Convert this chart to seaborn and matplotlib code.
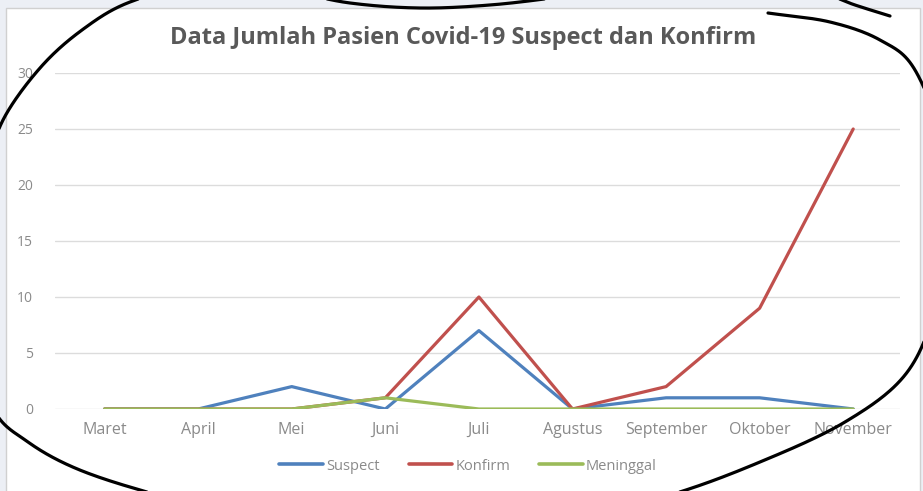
import matplotlib
matplotlib.use("Agg")
import matplotlib.pyplot as plt
from matplotlib.patches import Rectangle
import numpy as np
import pandas as pd
import seaborn as sns

# Monthly patient counts
bulan = ["Maret", "April", "Mei", "Juni", "Juli", "Agustus", "September", "Oktober", "November"]
suspect = [0, 0, 2, 0, 7, 0, 1, 1, 0]
konfirm = [0, 0, 0, 1, 10, 0, 2, 9, 25]
meninggal = [0, 0, 0, 1, 0, 0, 0, 0, 0]
seri = ["Suspect", "Konfirm", "Meninggal"]
warna = ["#4F81BD", "#C0504D", "#9BBB59"]
yticks = [0, 5, 10, 15, 20, 25, 30]

df = pd.DataFrame({
    "Bulan": bulan * 3,
    "Jumlah": suspect + konfirm + meninggal,
    "Seri": [seri[0]] * len(bulan) + [seri[1]] * len(bulan) + [seri[2]] * len(bulan),
})
df["pos"] = [bulan.index(b) for b in df["Bulan"]]

sns.set_theme(style="white")
plt.rcParams["font.family"] = ["Open Sans", "DejaVu Sans"]

W, H = 923, 491
fig = plt.figure(figsize=(W / 100, H / 100), dpi=100)
fig.patch.set_facecolor("#eceff5")

# chart area panel
bg = fig.add_axes([0, 0, 1, 1], zorder=0)
bg.set_xlim(0, W)
bg.set_ylim(H, 0)
bg.axis("off")
bg.add_patch(Rectangle((6, 8), 914, 490, facecolor="white", edgecolor="#d0d0d0", lw=1))

ax = fig.add_axes([55 / W, 1 - 409 / H, (900 - 55) / W, (409 - 73) / H], zorder=1)
ax.set_facecolor("none")
sns.lineplot(data=df, x="pos", y="Jumlah", hue="Seri", hue_order=seri,
             palette=warna, linewidth=2.3, sort=False, ax=ax, legend=False)

ax.set_xlim(-0.53, 8.5)
ax.set_ylim(0, 30)
ax.set_yticks(yticks)
ax.set_yticklabels([str(v) for v in yticks], color="#8a8a8a", fontsize=10)
ax.set_xticks(range(len(bulan)))
ax.set_xticklabels(bulan, color="#8a8a8a", fontsize=11.5)
ax.tick_params(axis="y", length=0, pad=16)
ax.tick_params(axis="x", length=0, pad=9)
ax.yaxis.grid(True, color="#dcdcdc", lw=1)
ax.set_axisbelow(True)
for s in ax.spines.values():
    s.set_visible(False)
ax.set_xlabel("")
ax.set_ylabel("")

fig.text(463 / W, 1 - 38 / H, "Data Jumlah Pasien Covid-19 Suspect dan Konfirm",
         ha="center", va="center", fontsize=17, fontweight="bold", color="#595959")

handles = [plt.Line2D([], [], color=c, lw=2.6) for c in warna]
fig.legend(handles, seri, loc="center", bbox_to_anchor=(468 / W, 1 - 466 / H), ncol=3,
           frameon=False, fontsize=10.5, labelcolor="#8a8a8a", handlelength=3.0,
           handletextpad=0.2, columnspacing=2.0)


def catmull_rom(pts, steps=30):
    """Smooth curve through the given control points (open ends extrapolated)."""
    p = np.asarray(pts, float)
    p = np.vstack([2 * p[0] - p[1], p, 2 * p[-1] - p[-2]])
    out = []
    u = np.linspace(0, 1, steps, endpoint=False)[:, None]
    for i in range(1, len(p) - 2):
        p0, p1, p2, p3 = p[i - 1], p[i], p[i + 1], p[i + 2]
        seg = 0.5 * ((2 * p1) + (-p0 + p2) * u + (2 * p0 - 5 * p1 + 4 * p2 - p3) * u ** 2
                     + (-p0 + 3 * p1 - 3 * p2 + p3) * u ** 3)
        out.append(seg)
    out.append(p[-2][None, :])
    return np.vstack(out)


# freehand pen loop around the chart, in pixel space
ov = fig.add_axes([0, 0, 1, 1], zorder=3)
ov.set_xlim(0, W)
ov.set_ylim(H, 0)
ov.axis("off")
stroke = [(768, 13), (830, 22), (880, 40), (915, 70), (945, 150), (950, 230), (935, 310),
          (905, 375), (845, 422), (760, 462), (670, 495), (560, 522), (450, 530), (330, 525),
          (220, 510), (140, 490), (75, 468), (28, 442), (-6, 410), (-25, 340), (-27, 250),
          (-12, 170), (3, 120), (40, 68), (82, 30), (130, 2), (200, -15), (280, -10),
          (350, 3), (420, 8), (490, 5), (560, -3), (650, -15), (750, -18), (815, -9),
          (855, 5), (890, 16)]
curve = catmull_rom(stroke)
ov.plot(curve[:, 0], curve[:, 1], color="black", lw=2.3, solid_capstyle="round")

fig.savefig("out.png", dpi=100, facecolor=fig.get_facecolor())
